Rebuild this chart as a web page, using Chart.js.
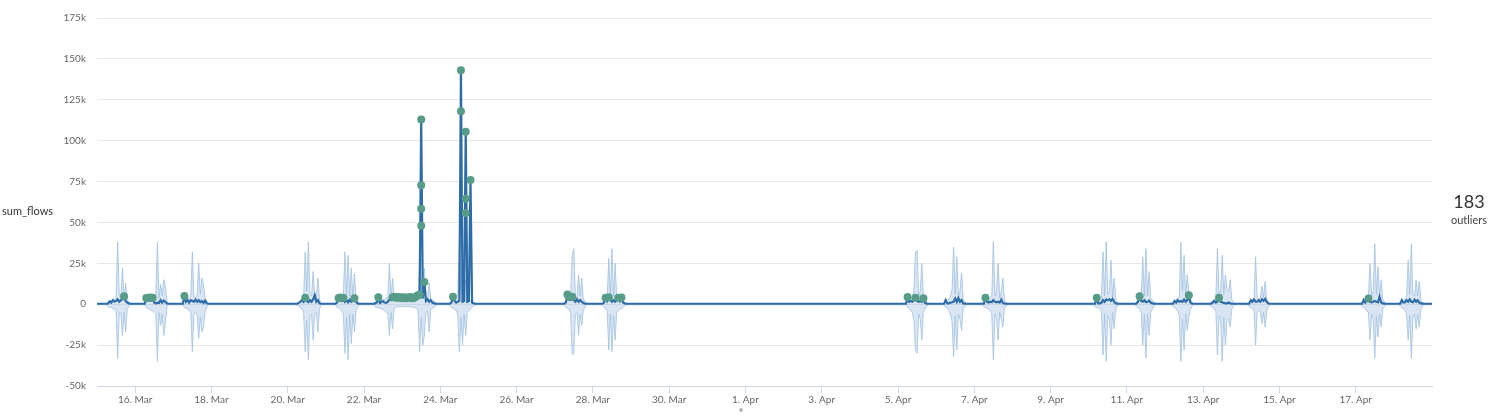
<!DOCTYPE html>
<html>
<head>
<meta charset="utf-8">
<script src="https://cdn.jsdelivr.net/npm/chart.js@4.4.1/dist/chart.umd.min.js"></script>
<style>
  html, body { margin: 0; padding: 0; background: #fff; }
  #wrap { position: relative; width: 1508px; height: 418px; font-family: Lato, "Open Sans", sans-serif; }
  #chart { position: absolute; left: 0; top: 0; }
  .ylab { position: absolute; left: 2px; top: 204px; font-size: 11px; color: #333; }
  .count { position: absolute; left: 1440px; width: 58px; text-align: center; top: 190px; font-size: 18px; color: #333; }
  .sub { position: absolute; left: 1440px; width: 58px; text-align: center; top: 213px; font-size: 11px; color: #444; }
  .dot { position: absolute; left: 739px; top: 408px; width: 4px; height: 4px; border-radius: 50%; background: #b5b5b5; }
</style>
</head>
<body>
<div id="wrap">
  <canvas id="chart" width="1508" height="418"></canvas>
  <div class="ylab">sum_flows</div>
  <div class="count">183</div>
  <div class="sub">outliers</div>
  <div class="dot"></div>
</div>
<script>
// x axis: hours since 15 Mar 2017 00:00, values in thousands
const tickDates = ['03-16', '03-18', '03-20', '03-22', '03-24', '03-26', '03-28', '03-30',
                   '04-01', '04-03', '04-05', '04-07', '04-09', '04-11', '04-13', '04-15', '04-17'];
const tickLabels = ['16. Mar', '18. Mar', '20. Mar', '22. Mar', '24. Mar', '26. Mar', '28. Mar', '30. Mar',
                    '1. Apr', '3. Apr', '5. Apr', '7. Apr', '9. Apr', '11. Apr', '13. Apr', '15. Apr', '17. Apr'];
const yTicks = [-50, -25, 0, 25, 50, 75, 100, 125, 150, 175];

// each burst: hourly samples from its start time
const burstStart = ['03-15 00:00', '03-15 06:00', '03-16 06:00', '03-17 06:00', '03-20 06:00', '03-21 06:00',
                    '03-22 06:00', '03-24 06:00', '03-27 06:00', '03-28 06:00', '04-05 05:00', '04-06 05:00',
                    '04-07 05:00', '04-10 03:00', '04-11 05:00', '04-12 04:00', '04-13 04:00', '04-14 04:00',
                    '04-17 03:00', '04-18 03:00', '04-19 00:00'];

const bandUpper = [
  [0.3],
  [0.3, 1.5, 2, 2, 3, 3, 4, 38, 5, 4, 22, 4, 13, 3, 1.5, 0.3],
  [0.3, 2, 2.5, 3, 3, 4, 4, 5, 38, 4, 12, 5, 15, 11, 2, 0.3],
  [0.3, 2, 2.5, 3, 4, 5, 32, 5, 4, 6, 25, 6, 16, 12, 4, 2, 0.3],
  [0.3, 1.5, 2, 3, 4, 32, 8, 38, 6, 5, 20, 5, 4, 16, 3, 0.3],
  [0.3, 2, 2.5, 3, 4, 5, 32, 6, 30, 5, 22, 4, 19, 3, 2, 0.3],
  [0.3, 1.5, 2, 2, 2.5, 2.5, 3, 3, 4, 4, 25, 4, 16, 3, 2, 1.5, 1.5, 1.5,
   1.5, 1.5, 1.5, 1.5, 1.5, 1.5, 1.5, 2, 2, 2.5, 3, 27, 6, 20, 22, 4, 3, 13, 3, 2.5, 2, 1, 0.3],
  [0.3, 2, 2.5, 3, 4, 6, 37, 6, 26, 5, 15, 4, 3, 2.5, 2, 1, 0.3],
  [0.3, 2, 2.5, 3, 4, 30, 34, 5, 4, 18, 5, 16, 3, 2, 0.3],
  [0.3, 2, 2.5, 3, 28, 5, 34, 5, 25, 4, 3, 2.5, 2.5, 2, 1, 0.3],
  [0.3, 2, 2.5, 3, 4, 8, 32, 33, 5, 8, 25, 4, 3, 1.5, 0.3],
  [0.3, 2, 2.5, 3, 5, 9, 35, 6, 29, 5, 8, 19, 3, 1.5, 0.3],
  [0.3, 1.5, 2, 2.5, 3, 4, 5, 38, 5, 8, 25, 4, 8, 16, 2, 1.5, 0.3],
  [0.3, 1.5, 2, 2, 2.5, 4, 32, 5, 38, 6, 8, 27, 4, 16, 3, 1.5, 0.3],
  [0.3, 1.5, 2, 3, 4, 29, 5, 34, 5, 20, 4, 2.5, 1.5, 0.3],
  [0.3, 1.5, 2, 2.5, 4, 5, 38, 8, 30, 5, 18, 8, 3, 1.5, 0.3],
  [0.3, 1.5, 2, 2.5, 4, 34, 6, 8, 30, 6, 18, 9, 8, 15, 3, 1.5, 0.3],
  [0.3, 1.5, 2, 2.5, 4, 29, 4, 3, 4, 11, 4, 14, 3, 1.5, 0.3],
  [0.3, 1.5, 2, 2.5, 3, 4, 25, 5, 8, 37, 6, 23, 5, 15, 3, 1.5, 0.3],
  [0.3, 1.5, 2, 2.5, 3, 5, 27, 6, 37, 6, 5, 15, 5, 14, 3, 1.5, 0.3],
  [0.3]
];

const bandLower = [
  [-0.3],
  [-0.3, -1.5, -2, -2, -3, -3, -4, -33, -5, -5, -19, -5, -17, -3, -1.5, -0.3],
  [-0.3, -2, -2.5, -3, -4, -4, -5, -6, -35, -5, -13, -6, -19, -12, -2, -0.3],
  [-0.3, -2, -2.5, -3, -4, -5, -29, -6, -5, -7, -21, -8, -17, -14, -5, -2, -0.3],
  [-0.3, -1.5, -2, -3, -5, -29, -10, -34, -7, -6, -22, -6, -5, -17, -3, -0.3],
  [-0.3, -2, -2.5, -3, -4, -6, -30, -8, -34, -6, -24, -6, -17, -4, -2, -0.3],
  [-0.3, -1.5, -2, -2, -2.5, -3, -3, -4, -5, -5, -19, -5, -15, -3, -2, -1.5, -1.5, -1.5,
   -1.5, -1.5, -1.5, -1.5, -1.5, -1.5, -1.5, -2, -2, -2.5, -4, -29, -8, -25, -19, -5, -4, -17, -3, -2.5, -2, -1, -0.3],
  [-0.3, -2, -2.5, -3, -4, -6, -29, -8, -25, -6, -19, -5, -4, -3, -2, -1, -0.3],
  [-0.3, -2, -2.5, -3, -5, -31, -30, -6, -5, -19, -6, -13, -4, -2, -0.3],
  [-0.3, -2, -2.5, -4, -28, -6, -29, -7, -22, -5, -4, -3, -3, -2, -1, -0.3],
  [-0.3, -2, -2.5, -4, -5, -10, -28, -30, -6, -9, -22, -5, -3, -1.5, -0.3],
  [-0.3, -2, -2.5, -4, -6, -11, -32, -7, -28, -6, -9, -16, -3, -1.5, -0.3],
  [-0.3, -1.5, -2, -2.5, -3, -4, -6, -34, -6, -9, -22, -5, -9, -14, -2, -1.5, -0.3],
  [-0.3, -1.5, -2, -2, -3, -4, -31, -6, -35, -7, -9, -25, -5, -15, -3, -1.5, -0.3],
  [-0.3, -1.5, -2, -3, -5, -25, -6, -33, -6, -19, -5, -3, -1.5, -0.3],
  [-0.3, -1.5, -2, -3, -4, -7, -35, -9, -28, -6, -16, -8, -3, -1.5, -0.3],
  [-0.3, -1.5, -2, -3, -4, -31, -7, -9, -35, -8, -25, -10, -9, -14, -3, -1.5, -0.3],
  [-0.3, -1.5, -2, -3, -4, -25, -5, -4, -5, -12, -5, -14, -4, -1.5, -0.3],
  [-0.3, -1.5, -2, -3, -4, -5, -22, -6, -9, -33, -7, -20, -6, -14, -3, -1.5, -0.3],
  [-0.3, -1.5, -2, -3, -4, -6, -22, -7, -33, -8, -6, -15, -6, -14, -3, -1.5, -0.3],
  [-0.3]
];

const flowValues = [
  [0.3],
  [0.3, 0.5, 1.8, 1, 2.5, 1.5, 2, 3, 1.5, 2.5, 3, 4.9, 2, 1, 0.5, 0.3],
  [0.3, 3.8, 3.8, 4.1, 3.9, 4.0, 1, 0.5, 1, 0.8, 2.5, 1, 2.2, 1.5, 0.4, 0.3],
  [0.3, 5.0, 1.5, 2.5, 1, 2.5, 2, 1.5, 2.8, 1.5, 2.5, 1.2, 2, 0.8, 2.2, 0.6, 0.3],
  [0.3, 0.8, 1.5, 2.5, 1.5, 4.0, 2, 1.2, 2.5, 1.5, 3, 5.5, 1.5, 2.5, 0.5, 0.3],
  [0.3, 1, 3.8, 4.1, 3.7, 3.9, 1.5, 2.5, 1.2, 2.8, 1.5, 2.2, 3.7, 1.5, 0.5, 0.3],
  [0.3, 0.5, 1, 4.3, 0.8, 1.5, 1.8, 1, 0.8, 1.5, 3.0, 2.5, 4.2, 4.6, 4.0, 4.4, 3.9, 4.2,
   3.8, 4.3, 3.7, 4.1, 3.9, 4.4, 4.0, 3.6, 4.2, 4.8, 5.5, 5.8, 113, 3.5, 13.6, 2, 3, 1.5, 2.5, 1, 0.5, 0.4, 0.3],
  [0.3, 1, 4.5, 2, 1, 1.5, 2, 143, 1.5, 2, 106, 1.5, 2, 76, 1, 0.5, 0.3],
  [0.3, 1, 6, 4.5, 4.2, 4.5, 2.5, 1.5, 3, 1.5, 2.5, 1.5, 0.8, 0.4, 0.3],
  [0.3, 1, 3.9, 2, 4.2, 2.5, 1.5, 2.5, 1.5, 2.5, 4.0, 2, 4.1, 1, 0.5, 0.3],
  [0.3, 4.4, 1.5, 2, 1.5, 2.5, 3.9, 2, 1.5, 2, 1.5, 3.7, 0.8, 0.4, 0.3],
  [0.3, 2.5, 0.5, 0.5, 1, 1.2, 1.5, 3.5, 1.5, 3.8, 1.5, 2.5, 0.5, 0.4, 0.3],
  [0.3, 0.3, 3.9, 1.5, 1, 1.5, 1.2, 2.5, 1.5, 1.2, 1.5, 1, 2.8, 0.8, 0.4, 0.3, 0.3],
  [0.3, 0.3, 3.9, 0.5, 0.5, 0.8, 2.5, 1.5, 2.8, 2.5, 3, 2, 3.2, 1.5, 0.5, 0.4, 0.3],
  [0.3, 0.3, 1.5, 4.9, 2, 1.5, 2.5, 1.2, 1.5, 2.2, 1, 0.5, 0.4, 0.3],
  [0.3, 0.3, 2, 1, 2.5, 1.5, 2, 1.5, 2.8, 1.5, 2.5, 5.5, 1, 0.4, 0.3],
  [0.3, 0.3, 1, 2, 1, 1.5, 4.0, 1.5, 1.2, 0.8, 0.5, 0.5, 1, 0.5, 0.3, 0.3, 0.3],
  [0.3, 0.3, 2.5, 1.5, 2.8, 1.5, 1.5, 2.5, 1.5, 3, 2, 3.2, 1.5, 0.4, 0.3],
  [0.3, 0.3, 2.5, 1, 2.5, 3.5, 1.5, 1.2, 1.5, 2, 1.5, 1.2, 4.5, 1, 0.5, 0.4, 0.3],
  [0.3, 0.3, 2.5, 1, 1.2, 2.5, 1.5, 3, 1.5, 1.2, 2.8, 1.5, 2.5, 1, 0.5, 0.4, 0.3],
  [0.3]
];

const outlierTimes = [
  '03-15 17:00',
  '03-16 07:00', '03-16 08:00', '03-16 09:00', '03-16 10:00', '03-16 11:00',
  '03-17 07:00', '03-20 11:00',
  '03-21 08:00', '03-21 09:00', '03-21 10:00', '03-21 11:00', '03-21 18:00',
  '03-22 09:00', '03-22 18:00', '03-22 19:00', '03-22 20:00', '03-22 21:00', '03-22 22:00', '03-22 23:00',
  '03-23 00:00', '03-23 01:00', '03-23 02:00', '03-23 03:00', '03-23 04:00', '03-23 05:00',
  '03-23 06:00', '03-23 07:00', '03-23 08:00', '03-23 09:00', '03-23 10:00', '03-23 11:00',
  '03-23 12:00', '03-23 12:00', '03-23 12:00', '03-23 12:00', '03-23 14:00',
  '03-24 08:00', '03-24 13:00', '03-24 13:00', '03-24 16:00', '03-24 16:00', '03-24 16:00', '03-24 19:00',
  '03-27 08:00', '03-27 09:00', '03-27 10:00', '03-27 11:00',
  '03-28 08:00', '03-28 10:00', '03-28 16:00', '03-28 18:00',
  '04-05 06:00', '04-05 11:00', '04-05 16:00', '04-07 07:00', '04-10 05:00',
  '04-11 08:00', '04-12 15:00', '04-13 10:00', '04-17 08:00'
];
const outlierValues = [
  4.9,
  3.8, 3.8, 4.1, 3.9, 4.0,
  5.0, 4.0,
  3.8, 4.1, 3.7, 3.9, 3.7,
  4.3, 4.2, 4.6, 4.0, 4.4, 3.9, 4.2,
  3.8, 4.3, 3.7, 4.1, 3.9, 4.4,
  4.0, 3.6, 4.2, 4.8, 5.5, 5.8,
  113, 72.8, 58.4, 48, 13.6,
  4.5, 143, 118, 105.5, 64.5, 55.7, 76,
  6, 4.5, 4.2, 4.5,
  3.9, 4.2, 4.0, 4.1,
  4.4, 3.9, 3.7, 3.9, 3.9,
  4.9, 5.5, 4.0, 3.5
];

function toHours(s) {
  const [md, hm] = s.split(' ');
  const [m, d] = md.split('-').map(Number);
  const [h, mi] = (hm || '00:00').split(':').map(Number);
  return (Date.UTC(2017, m - 1, d, h, mi) - Date.UTC(2017, 2, 15)) / 3600000;
}

const upperPts = [], lowerPts = [], linePts = [];
burstStart.forEach((start, b) => {
  const t0 = toHours(start);
  bandUpper[b].forEach((v, j) => upperPts.push({ x: t0 + j, y: v }));
  bandLower[b].forEach((v, j) => lowerPts.push({ x: t0 + j, y: v }));
  flowValues[b].forEach((v, j) => linePts.push({ x: t0 + j, y: v }));
});
const outlierPts = outlierTimes.map((t, i) => ({ x: toHours(t), y: outlierValues[i] }));

const font = { family: 'Lato, "Open Sans", sans-serif', size: 10 };

new Chart(document.querySelector('#chart'), {
  type: 'line',
  data: {
    datasets: [
      {
        label: 'upper',
        data: upperPts,
        borderColor: 'rgba(160,192,225,0.8)',
        borderWidth: 1,
        backgroundColor: 'rgba(170,198,228,0.45)',
        fill: '+1',
        pointRadius: 0,
        order: 3
      },
      {
        label: 'lower',
        data: lowerPts,
        borderColor: 'rgba(160,192,225,0.8)',
        borderWidth: 1,
        fill: false,
        pointRadius: 0,
        order: 3
      },
      {
        label: 'sum_flows',
        data: linePts,
        borderColor: '#2e6ca8',
        borderWidth: 2.2,
        fill: false,
        pointRadius: 0,
        order: 2
      },
      {
        label: 'outliers',
        data: outlierPts,
        showLine: false,
        pointRadius: 4,
        pointBackgroundColor: '#579c88',
        pointBorderColor: '#579c88',
        pointBorderWidth: 0,
        order: 1
      }
    ]
  },
  options: {
    responsive: false,
    animation: false,
    events: [],
    layout: { padding: { top: 18, right: 76, bottom: 0, left: 0 } },
    plugins: { legend: { display: false }, tooltip: { enabled: false } },
    elements: { line: { tension: 0 } },
    scales: {
      x: {
        type: 'linear',
        min: 0,
        max: 840,
        afterFit: scale => { scale.height = 32; },
        afterBuildTicks: scale => { scale.ticks = tickDates.map(d => ({ value: toHours(d) })); },
        grid: { drawOnChartArea: false, drawTicks: true, tickLength: 7, color: '#ccd6eb' },
        border: { display: true, color: '#ccd6eb' },
        ticks: {
          autoSkip: false,
          maxRotation: 0,
          padding: 1,
          color: '#666',
          font: font,
          callback: (value, index) => tickLabels[index]
        }
      },
      y: {
        min: -50,
        max: 175,
        afterFit: scale => { scale.width = 97; },
        afterBuildTicks: scale => { scale.ticks = yTicks.map(v => ({ value: v })); },
        grid: { color: '#e6e6e6', drawTicks: false },
        border: { display: false },
        ticks: {
          padding: 11,
          color: '#666',
          font: font,
          callback: v => (v === 0 ? '0' : v + 'k')
        }
      }
    }
  }
});
</script>
</body>
</html>
